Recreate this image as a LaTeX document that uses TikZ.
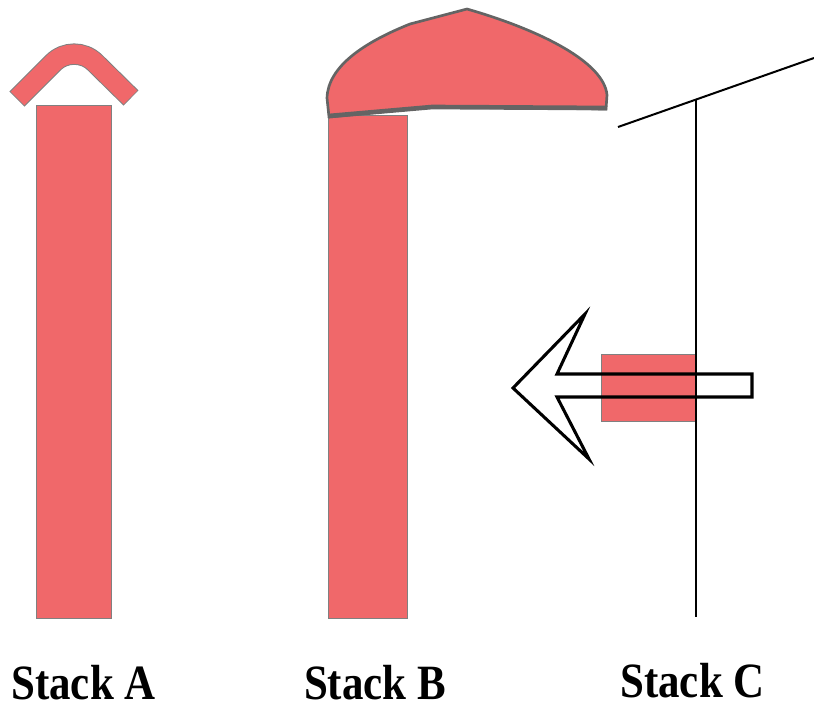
\documentclass[tikz,border=0pt]{standalone}
\usepackage{fontspec}
\setmainfont{Liberation Serif}
\begin{document}
\begin{tikzpicture}[x=0.75pt,y=-0.75pt,
  redfill/.style={fill={rgb,255:red,240;green,104;blue,106}},
  bar/.style={redfill, draw={rgb,255:red,128;green,128;blue,128}, line width=0.8pt},
  blackline/.style={draw=black, line width=1.5pt},
  label/.style={font=\bfseries\fontsize{37}{40}\selectfont, xscale=0.87, anchor=base, inner sep=0pt, text depth=0pt}]
\useasboundingbox (0,0) rectangle (814,708);
% Stack A
\node[bar, rectangle, minimum width=75*0.75pt, minimum height=513*0.75pt, inner sep=0pt, anchor=north west] (barA) at (36,105) {};
\coordinate (capAl) at (17,99);
\coordinate (capAt) at (74,42);
\coordinate (capAr) at (131,98);
\draw[rounded corners=22pt, line width=16pt, draw={rgb,255:red,128;green,128;blue,128}] (capAl) -- (capAt) -- (capAr);
\draw[rounded corners=22pt, line width=14.5pt, draw={rgb,255:red,240;green,104;blue,106}, shorten <=0.6pt, shorten >=0.6pt] (capAl) -- (capAt) -- (capAr);
% Stack B
\node[bar, rectangle, minimum width=79*0.75pt, minimum height=503*0.75pt, inner sep=0pt, anchor=north west] (barB) at (328,115) {};
\coordinate (domeApex) at (467,9);
\draw[redfill, draw={rgb,255:red,100;green,100;blue,100}, line width=2pt]
  (329,117) -- (327,98) .. controls (328,66) and (365,42) .. (410,24) -- (domeApex)
  .. controls (540,30) and (604,62) .. (607,95) -- (606,109) -- (432,107) -- cycle;
\draw[draw={rgb,255:red,100;green,100;blue,100}, line width=3.5pt] (329,116) -- (432,107) -- (607,108);
% Stack C
\coordinate (slantL) at (618,127);
\coordinate (slantR) at (814,58);
\draw[blackline] (slantL) -- (slantR);
\coordinate (wallTop) at (696,99.5);
\coordinate (wallBot) at (696,617);
\node[bar, rectangle, minimum width=95*0.75pt, minimum height=67*0.75pt, inner sep=0pt, anchor=north west] (boxC) at (601,354) {};
\draw[draw=black, line width=2.3pt, line join=miter]
  (752,374) -- (557,374) -- (585,314) -- (513,388) -- (589,459) -- (557,397) -- (752,397) -- cycle;
\draw[blackline] (wallTop) -- (wallBot);
% Labels
\node[label] (labA) at (83.5,699) {Stack A};
\node[label] (labB) at (375,699) {Stack B};
\node[label] (labC) at (692.5,697) {Stack C};
\end{tikzpicture}
\end{document}
